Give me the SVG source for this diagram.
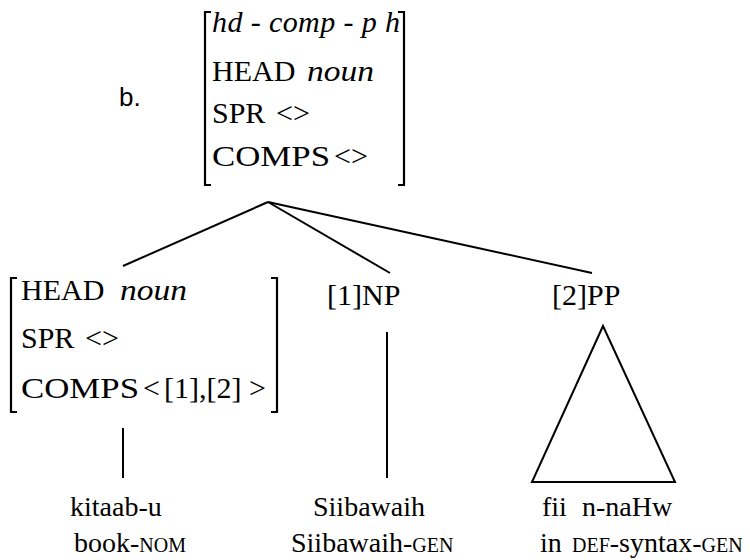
<svg xmlns="http://www.w3.org/2000/svg" width="750" height="560" viewBox="0 0 750 560">
<style>
.t{font-family:"Liberation Serif","Times New Roman",serif;font-size:30px;fill:#000}
.b{font-family:"Liberation Serif","Times New Roman",serif;font-size:28px;fill:#000}
.i{font-style:italic}
.sc{font-size:20px}
.lbl{font-family:"Liberation Sans",Arial,sans-serif;font-size:26px;fill:#000}
.br{fill:none;stroke:#000;stroke-width:2.2}
.ln{fill:none;stroke:#000;stroke-width:2}
</style>
<rect width="750" height="560" fill="#fff"/>
<text class="lbl" x="119" y="106">b.</text>
<g id="root">
<path class="br" d="M211,12 H205 V185 H211"/>
<path class="br" d="M398,12 H404 V185 H398"/>
<text class="t i" x="212" y="32" textLength="188" lengthAdjust="spacing">hd - comp - p h</text>
<text class="t" x="212" y="81">HEAD</text>
<text class="t i" x="307" y="81" textLength="67" lengthAdjust="spacingAndGlyphs">noun</text>
<text class="t" x="212" y="123">SPR <tspan x="276">&lt;&gt;</tspan></text>
<text class="t" x="212" y="166" textLength="118" lengthAdjust="spacingAndGlyphs">COMPS</text>
<text class="t" x="334" y="166">&lt;&gt;</text>
</g>
<g id="head">
<path class="br" d="M17,278 H11 V412 H17"/>
<path class="br" d="M271,278 H277 V412 H271"/>
<text class="t" x="21" y="300">HEAD</text>
<text class="t i" x="120" y="300" textLength="67" lengthAdjust="spacingAndGlyphs">noun</text>
<text class="t" x="21" y="348">SPR <tspan x="85">&lt;&gt;</tspan></text>
<text class="t" x="21" y="398" textLength="118" lengthAdjust="spacingAndGlyphs">COMPS</text>
<text class="t" x="143" y="398">&lt;<tspan x="164">[1],[2]</tspan><tspan x="249">&gt;</tspan></text>
</g>
<g id="np">
<text class="t" x="327" y="305">[1]NP</text>
</g>
<g id="pp">
<text class="t" x="552" y="305">[2]PP</text>
<path class="ln" d="M603,326 L532,482 H675 Z"/>
</g>
<g id="w1">
<text class="b" x="70" y="516">kitaab-u</text>
<text class="b" x="74" y="552">book-<tspan class="sc">NOM</tspan></text>
</g>
<g id="w2">
<text class="b" x="313" y="516">Siibawaih</text>
<text class="b" x="291" y="552">Siibawaih-<tspan class="sc">GEN</tspan></text>
</g>
<g id="w3">
<text class="b" x="542" y="516">fii <tspan x="582">n-naHw</tspan></text>
<text class="b" x="540" y="552">in <tspan class="sc" x="572">DEF</tspan>-syntax-<tspan class="sc">GEN</tspan></text>
</g>
<g id="connectors">
<line class="ln" x1="268" y1="202" x2="123" y2="266"/>
<line class="ln" x1="268" y1="202" x2="390" y2="273"/>
<line class="ln" x1="268" y1="202" x2="592" y2="273"/>
<line class="ln" x1="123" y1="428" x2="123" y2="478"/>
<line class="ln" x1="387" y1="332" x2="387" y2="478"/>
</g>
</svg>
